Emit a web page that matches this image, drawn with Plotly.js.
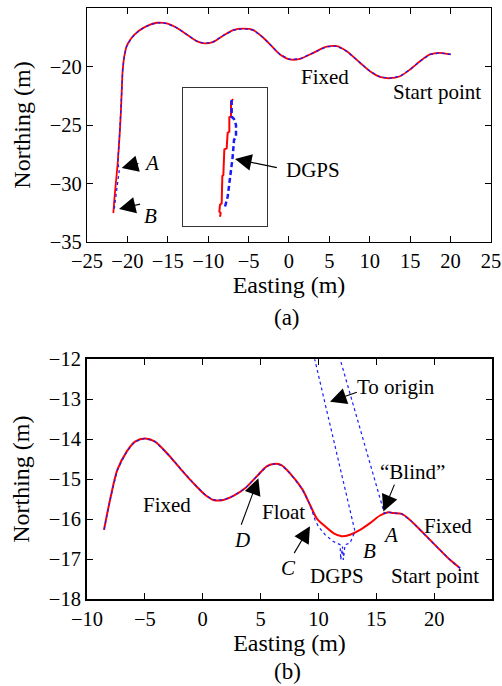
<!DOCTYPE html>
<html>
<head>
<meta charset="utf-8">
<script src="https://cdn.plot.ly/plotly-3.0.1.min.js"></script>
<style>html,body{margin:0;padding:0;background:#fff;}#plot{width:502px;height:686px;}</style>
</head>
<body>
<div id="plot"></div>
<script>
// ---------- Panel (a): trajectory, east -> west ----------
const rtkTopX = [20.01, 18.69, 17.45, 16.21, 14.98, 13.74, 12.50, 11.26, 10.02, 8.79, 7.14, 5.90, 4.66, 3.0, 1.36, 0.12, -1.11, -2.14, -3.18, -4.42, -5.66, -6.89, -8.13, -9.37, -10.40, -11.42, -12.66, -13.90, -15.14, -16.37, -17.61, -18.65, -19.47, -20.09, -20.38, -20.58, -20.71, -20.83, -21.0, -21.20, -21.41, -21.62, -21.74];
const rtkTopY = [-18.97, -18.83, -18.97, -19.55, -20.26, -20.83, -21.0, -20.88, -20.40, -19.68, -18.69, -18.26, -18.31, -18.83, -19.34, -19.40, -18.97, -18.26, -17.54, -16.89, -16.77, -16.89, -17.35, -17.89, -18.03, -17.83, -17.26, -16.69, -16.32, -16.26, -16.55, -16.98, -17.54, -18.26, -19.12, -20.26, -22.25, -24.25, -26.25, -28.25, -29.82, -31.39, -32.53];
const dgpsTopX = [20.01, 18.69, 17.45, 16.21, 14.98, 13.74, 12.50, 11.26, 10.02, 8.79, 7.14, 5.90, 4.66, 3.0, 1.36, 0.12, -1.11, -2.14, -3.18, -4.42, -5.66, -6.89, -8.13, -9.37, -10.40, -11.42, -12.66, -13.90, -15.14, -16.37, -17.61, -18.65, -19.47, -20.09, -20.38, -20.58, -20.71, -20.83, -21.0, -21.20, -21.0, -21.62, -21.82];
const dgpsTopY = [-18.97, -18.83, -18.97, -19.55, -20.26, -20.83, -21.0, -20.88, -20.40, -19.68, -18.69, -18.26, -18.31, -18.83, -19.34, -19.40, -18.97, -18.26, -17.54, -16.89, -16.77, -16.89, -17.35, -17.89, -18.03, -17.83, -17.26, -16.69, -16.32, -16.26, -16.55, -16.98, -17.54, -18.26, -19.12, -20.26, -22.25, -24.25, -26.25, -28.25, -28.83, -32.1, -32.18];

// Inset (zoom of the A-B section)
const insetRtkX = [-21.904, -21.928, -21.928, -21.948, -21.948, -21.968, -21.980, -22.008, -22.020, -22.032, -22.040, -22.060, -22.068, -22.052, -22.060];
const insetRtkY = [-28.389, -28.487, -29.031, -29.053, -29.576, -29.612, -30.179, -30.215, -31.148, -31.184, -32.176, -32.237, -32.481, -32.528, -32.662];
const insetDgpsX = [-21.920, -21.920, -21.892, -21.868, -21.868, -21.892, -21.908, -21.940, -21.968, -22.000];
const insetDgpsY = [-28.425, -29.031, -29.115, -29.333, -29.757, -29.877, -30.484, -31.330, -31.936, -32.299];

// ---------- Panel (b): trajectory, east -> west ----------
const rtkBotX = [22.24, 21.37, 20.22, 19.07, 17.92, 17.2, 16.47, 16.04, 15.32, 14.46, 13.6, 12.73, 12.01, 11.29, 10.57, 9.85, 9.27, 8.6, 7.53, 6.8, 6.1, 5.53, 4.67, 3.66, 2.65, 1.78, 0.92, 0.20, -0.81, -1.96, -2.97, -4.12, -4.99, -5.85, -6.57, -7.38, -8.01, -8.53];
const rtkBotY = [-17.23, -17.02, -16.69, -16.35, -16.02, -15.87, -15.85, -15.83, -15.91, -16.1, -16.27, -16.39, -16.43, -16.35, -16.18, -15.98, -15.64, -15.25, -14.85, -14.65, -14.62, -14.68, -14.93, -15.23, -15.42, -15.52, -15.52, -15.39, -15.1, -14.73, -14.39, -14.06, -13.98, -14.06, -14.31, -14.77, -15.52, -16.27];
const dgpsBotX = [22.24, 21.37, 20.22, 19.07, 17.92, 17.2, 16.47, 16.04, 15.7, 0, 13.16, 12.73, 12.30, 12.15, 12.08, 11.93, 11.87, 11.29, 10.57, 9.99, 9.71, 9.27, 8.6, 7.53, 6.8, 6.1, 5.53, 4.67, 3.66, 2.65, 1.78, 0.92, 0.20, -0.81, -1.96, -2.97, -4.12, -4.99, -5.85, -6.57, -7.38, -8.01, -8.53];
const dgpsBotY = [-17.23, -17.02, -16.69, -16.35, -16.02, -15.87, -15.85, -15.83, -15.86, 0, -16.31, -16.6, -16.64, -17.02, -16.69, -17.02, -16.64, -16.56, -16.39, -16.18, -16.02, -15.64, -15.25, -14.85, -14.65, -14.62, -14.68, -14.93, -15.23, -15.42, -15.52, -15.52, -15.39, -15.1, -14.73, -14.39, -14.06, -13.98, -14.06, -14.31, -14.77, -15.52, -16.27];

// Tick values
const topXTicks = [-25, -20, -15, -10, -5, 0, 5, 10, 15, 20, 25];
const topYTicks = [-35, -30, -25, -20, -15];
const botXTicks = [-10, -5, 0, 5, 10, 15, 20, 25];
const botYTicks = [-18, -17, -16, -15, -14, -13, -12];

const SERIF = 'Liberation Serif, Times New Roman, serif';
const RED = '#ff0000', BLUE = '#1a1aff';

const traces = [
  {x: rtkTopX, y: rtkTopY, xaxis: 'x', yaxis: 'y', mode: 'lines', line: {color: RED, width: 1.8, shape: 'spline', smoothing: 0.8}},
  {x: dgpsTopX, y: dgpsTopY, xaxis: 'x', yaxis: 'y', mode: 'lines', line: {color: BLUE, width: 1.3, dash: 'dot'}},
  {x: insetRtkX, y: insetRtkY, xaxis: 'x3', yaxis: 'y3', mode: 'lines', line: {color: RED, width: 2}},
  {x: insetDgpsX, y: insetDgpsY, xaxis: 'x3', yaxis: 'y3', mode: 'lines', line: {color: BLUE, width: 2.5, dash: '5px,3px'}},
  {x: rtkBotX, y: rtkBotY, xaxis: 'x2', yaxis: 'y2', mode: 'lines', line: {color: RED, width: 2, shape: 'spline', smoothing: 0.8}},
  {x: dgpsBotX, y: dgpsBotY, xaxis: 'x2', yaxis: 'y2', mode: 'lines', line: {color: BLUE, width: 1.2, dash: 'dot'}}
];

function axis(extra) {
  return Object.assign({
    showgrid: false, zeroline: false, showline: true, mirror: 'ticks',
    linecolor: '#000', linewidth: 1.2, ticks: 'inside', ticklen: 6, tickcolor: '#000', tickwidth: 1,
    tickfont: {family: SERIF, size: 20.5, color: '#000'}, tickmode: 'array'
  }, extra);
}
const titleFont = {family: SERIF, size: 24, color: '#000'};

function txt(text, x, y, xr, yr, extra) {
  return Object.assign({text: text, x: x, y: y, xref: xr, yref: yr, showarrow: false,
    font: {family: SERIF, size: 21, color: '#000'}, xanchor: 'center', yanchor: 'middle'}, extra || {});
}
function arr(x, y, ax, ay, xr, yr) {
  return {text: '', x: x, y: y, ax: ax, ay: ay, xref: xr, yref: yr, axref: xr, ayref: yr,
    showarrow: true, arrowhead: 2, arrowsize: 3, arrowwidth: 1.1, arrowcolor: '#000', standoff: 0};
}

const annotations = [
  // panel (a)
  txt('Fixed', 4.46, -20.88, 'x', 'y'),
  txt('Start point', 18.27, -22.2, 'x', 'y'),
  txt('<i>A</i>', -17.0, -28.25, 'x', 'y'),
  arr(-20.71, -28.67, -18.44, -28.25, 'x', 'y'),
  txt('<i>B</i>', -17.2, -32.76, 'x', 'y'),
  arr(-21.04, -32.18, -18.24, -31.73, 'x', 'y'),
  txt('DGPS', 2.92, -28.82, 'x', 'y'),
  arr(-6.68, -27.9, -1.32, -28.67, 'x', 'y'),
  txt('(a)', 0.494, 0.477, 'paper', 'paper', {font: {family: SERIF, size: 23, color: '#000'}}),
  // panel (b)
  txt('To origin', 16.71, -12.70, 'x2', 'y2'),
  arr(11.0, -13.06, 13.45, -12.81, 'x2', 'y2'),
  txt('\u201cBlind\u201d', 18.15, -14.81, 'x2', 'y2'),
  arr(15.61, -15.81, 16.62, -15.1, 'x2', 'y2'),
  txt('Fixed', -3.11, -15.64, 'x2', 'y2'),
  txt('Float', 6.97, -15.81, 'x2', 'y2'),
  txt('Fixed', 21.23, -16.18, 'x2', 'y2'),
  txt('Start point', 20.08, -17.42, 'x2', 'y2'),
  txt('DGPS', 11.58, -17.42, 'x2', 'y2'),
  txt('<i>A</i>', 16.19, -16.39, 'x2', 'y2'),
  txt('<i>B</i>', 14.4, -16.81, 'x2', 'y2'),
  txt('<i>C</i>', 7.4, -17.23, 'x2', 'y2'),
  arr(9.27, -16.18, 7.83, -16.89, 'x2', 'y2'),
  txt('<i>D</i>', 3.37, -16.53, 'x2', 'y2'),
  arr(4.81, -14.98, 3.28, -16.18, 'x2', 'y2'),
  txt('(b)', 0.496, -0.1235, 'paper', 'paper', {font: {family: SERIF, size: 23, color: '#000'}})
];

const layout = {
  width: 502, height: 686,
  margin: {l: 87, r: 10, t: 8, b: 87},
  paper_bgcolor: '#fff', plot_bgcolor: '#fff',
  showlegend: false,
  font: {family: SERIF, color: '#000'},
  xaxis: axis({domain: [0, 0.9975], anchor: 'y', range: [-25, 25], tickvals: topXTicks,
    title: {text: 'Easting (m)', font: titleFont, standoff: 4}}),
  yaxis: axis({domain: [0.604, 1], anchor: 'x', range: [-35, -15], tickvals: topYTicks,
    title: {text: 'Northing (m)', font: titleFont, standoff: 12}}),
  xaxis2: axis({domain: [0, 1], anchor: 'y2', range: [-10, 25], tickvals: botXTicks, linewidth: 2,
    title: {text: 'Easting (m)', font: titleFont, standoff: 4}}),
  yaxis2: axis({domain: [0, 0.4056], anchor: 'x2', range: [-18, -12], tickvals: botYTicks, linewidth: 2,
    title: {text: 'Northing (m)', font: titleFont, standoff: 12}}),
  xaxis3: {domain: [0.2378, 0.4437], anchor: 'y3', range: [-22.5, -21.5], showgrid: false, zeroline: false,
    showline: true, mirror: true, linecolor: '#333', linewidth: 1, ticks: '', showticklabels: false},
  yaxis3: {domain: [0.6311, 0.8641], anchor: 'x3', range: [-33, -28], showgrid: false, zeroline: false,
    showline: true, mirror: true, linecolor: '#333', linewidth: 1, ticks: '', showticklabels: false},
  annotations: annotations
};

Plotly.newPlot('plot', traces, layout, {staticPlot: true, displayModeBar: false});
</script>
</body>
</html>
